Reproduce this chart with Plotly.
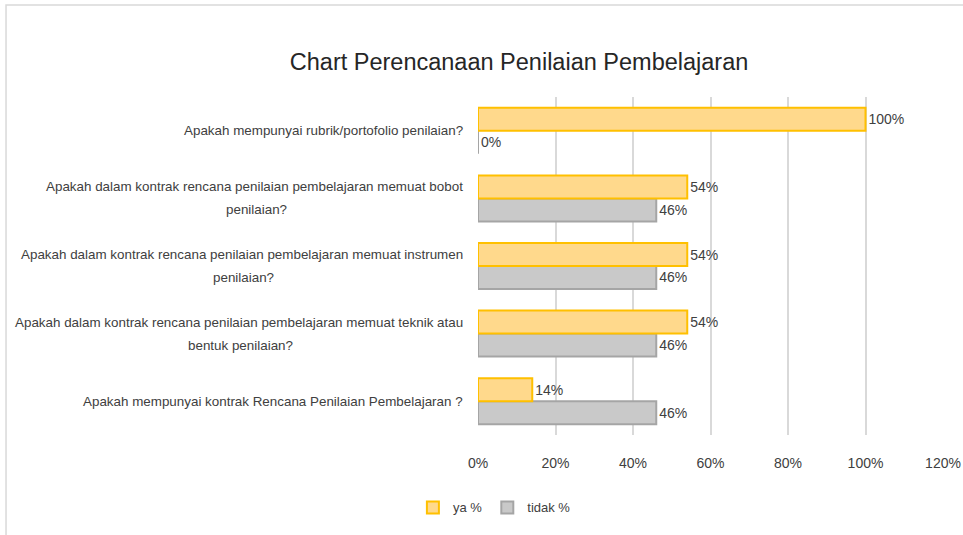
import plotly.graph_objects as go

categories = [
    "Apakah mempunyai kontrak Rencana Penilaian Pembelajaran ?",
    "Apakah dalam kontrak rencana penilaian pembelajaran memuat teknik atau<br>bentuk penilaian?",
    "Apakah dalam kontrak rencana penilaian pembelajaran memuat instrumen<br>penilaian?",
    "Apakah dalam kontrak rencana penilaian pembelajaran memuat bobot<br>penilaian?",
    "Apakah mempunyai rubrik/portofolio penilaian?",
]
ya = [14, 54, 54, 54, 100]
tidak = [46, 46, 46, 46, 0]
x_ticks = [0, 20, 40, 60, 80, 100, 120]

FONT = "Liberation Sans, Arial, sans-serif"
LABEL_SIZE = 13.4
# paper-x centre of the wrapped second line (layout only)
second_line_x = {1: -0.510, 2: -0.504, 3: -0.477}

fig = go.Figure()
fig.add_trace(go.Bar(
    y=categories, x=tidak, orientation="h", name="tidak %",
    marker=dict(color="#C9C9C9", line=dict(color="#A5A5A5", width=2)),
    text=[f"{v}%" for v in tidak], textposition="outside",
    textfont=dict(size=14, color="#404040", family=FONT),
    cliponaxis=False, legend="legend2",
))
fig.add_trace(go.Bar(
    y=categories, x=ya, orientation="h", name="ya %",
    marker=dict(color="#FFD98C", line=dict(color="#FFC000", width=2)),
    text=[f"{v}%" for v in ya], textposition="outside",
    textfont=dict(size=14, color="#404040", family=FONT),
    cliponaxis=False, legend="legend",
))

for i, c in enumerate(categories):
    parts = c.split("<br>")
    if len(parts) == 1:
        fig.add_annotation(
            x=-0.028, xref="paper", y=c, yref="y", text=c,
            xanchor="right", yanchor="middle", showarrow=False,
            font=dict(size=LABEL_SIZE, color="#404040", family=FONT),
        )
    else:
        fig.add_annotation(
            x=-0.028, xref="paper", y=c, yref="y", text=parts[0], yshift=11.5,
            xanchor="right", yanchor="middle", showarrow=False,
            font=dict(size=LABEL_SIZE, color="#404040", family=FONT),
        )
        fig.add_annotation(
            x=second_line_x[i], xref="paper", y=c, yref="y", text=parts[1], yshift=-11.5,
            xanchor="center", yanchor="middle", showarrow=False,
            font=dict(size=LABEL_SIZE, color="#404040", family=FONT),
        )

fig.add_shape(type="rect", xref="paper", yref="paper",
              x0=-1.015, x1=1.2, y0=-0.5, y1=1.272,
              line=dict(color="#D9D9D9", width=1.5), fillcolor="rgba(0,0,0,0)", layer="below")

legend_style = dict(orientation="h", xanchor="left", y=-0.17, yanchor="top",
                    font=dict(size=13, color="#404040", family=FONT),
                    bgcolor="rgba(0,0,0,0)")

fig.update_layout(
    width=963, height=535,
    margin=dict(l=478, r=20, t=97, b=100, autoexpand=False),
    paper_bgcolor="white", plot_bgcolor="white",
    barmode="group", bargap=0.32, bargroupgap=0,
    title=dict(text="Chart Perencanaan Penilaian Pembelajaran", x=0.539, xanchor="center",
               y=0.885, yanchor="middle",
               font=dict(size=23.5, color="#262626", family=FONT)),
    xaxis=dict(range=[0, 120], tickvals=x_ticks, ticktext=[f"{t}%" for t in x_ticks],
               showgrid=True, gridcolor="#D9D9D9", gridwidth=1.5, zeroline=False,
               showline=False, ticks="", ticklabelstandoff=18,
               tickfont=dict(size=14, color="#404040", family=FONT)),
    yaxis=dict(categoryorder="array", categoryarray=categories, showticklabels=False,
               showgrid=False, zeroline=False, showline=False, ticks=""),
    legend=dict(x=-0.14, **legend_style),
    legend2=dict(x=0.02, **legend_style),
    showlegend=True,
)

fig.write_html("out.html")
